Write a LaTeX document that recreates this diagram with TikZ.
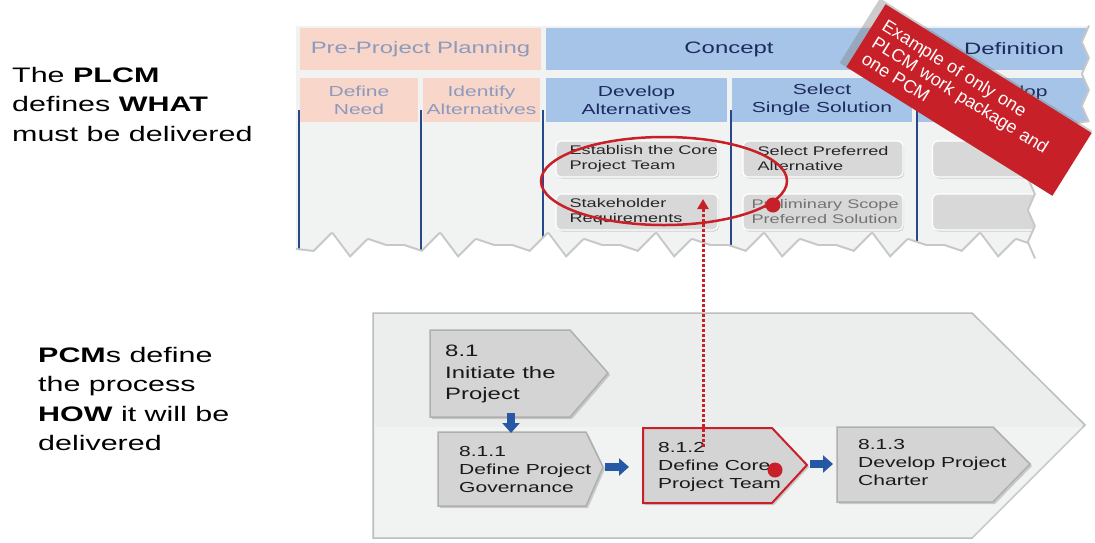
\documentclass[tikz,border=0pt]{standalone}
\usepackage{fontspec}
\setmainfont[FakeStretch=1.45]{Liberation Sans}
\newfontfamily\bannerfont{Liberation Sans}
\usepackage{xcolor}
\usetikzlibrary{arrows.meta,shadows}

\definecolor{prepink}{RGB}{248,214,201}
\definecolor{pretext}{RGB}{140,154,190}
\definecolor{conblue}{RGB}{166,196,231}
\definecolor{context}{RGB}{28,42,94}
\definecolor{tablebg}{RGB}{241,242,242}
\definecolor{collinecol}{RGB}{40,72,140}
\definecolor{tboxfill}{RGB}{216,216,216}
\definecolor{chevfill}{RGB}{212,212,212}
\definecolor{chevedge}{RGB}{175,175,175}
\definecolor{stagefill}{RGB}{236,237,237}
\definecolor{stageedge}{RGB}{188,190,190}
\definecolor{plred}{RGB}{200,32,40}
\definecolor{arrowblue}{RGB}{38,88,165}

\tikzset{
  caption/.style={inner sep=0pt, align=left, font=\fontsize{21}{29.5}\selectfont},
  headcell/.style={inner sep=0pt, minimum height=42pt, font=\fontsize{16.5}{20}\selectfont},
  subcell/.style={inner sep=0pt, minimum height=44pt, align=center, font=\fontsize{14.5}{18}\selectfont},
  prestage/.style={fill=prepink, text=pretext},
  constage/.style={fill=conblue, text=context},
  colline/.style={draw=collinecol, line width=2pt},
  tbox/.style={rounded corners=5pt, fill=tboxfill, draw=white, line width=1.2pt, inner sep=0pt,
    minimum height=36pt, drop shadow={opacity=0.3, shadow xshift=1pt, shadow yshift=-1.5pt}},
  tboxtext/.style={inner sep=0pt, align=left, font=\fontsize{12.5}{15}\selectfont, text=black!85},
  tearshade/.style={draw=black!22, line width=4pt, line join=round},
  bigstage/.style={fill=stagefill, draw=stageedge, line width=1.5pt},
  chev/.style={fill=chevfill, draw=chevedge, line width=1.5pt,
    drop shadow={opacity=0.35, shadow xshift=2pt, shadow yshift=-2pt}},
  chevtext/.style={inner sep=0pt, align=left, font=\fontsize{14.5}{18}\selectfont, text=black!90},
  blockarrow/.style={draw=arrowblue, line width=8pt, -{Triangle[length=10pt,width=17pt]}},
  redmark/.style={draw=plred, line width=2.5pt},
  banner/.style={rotate=-32, fill=plred, text=white, inner sep=0pt, minimum width=243pt,
    minimum height=74pt, text width=224pt, align=left, font=\bannerfont\fontsize{18}{19.5}\selectfont,
    drop shadow={opacity=0.4, shadow xshift=-3pt, shadow yshift=3pt, shadow scale=1.03}}
}

\begin{document}
\begin{tikzpicture}[x=1pt,y=-1pt]
\useasboundingbox (0,0) rectangle (1095,542);

% left captions
\node[caption, anchor=north west] (plcmtext) at (12,67) {The \textbf{PLCM}\\defines \textbf{WHAT}\\must be delivered};
\node[caption, anchor=north west] (pcmtext) at (38,347) {\textbf{PCM}s define\\the process\\\textbf{HOW} it will be\\delivered};

% PLCM table
\fill[tablebg] (296,26) rectangle (1095,270);

\node[headcell, prestage, minimum width=241pt] (preproj) at (420.5,49) {Pre-Project Planning};
\node[headcell, constage, minimum width=366pt] (concept) at (729,49) {Concept};
\node[headcell, constage, minimum width=196pt] (definition) at (1014,49) {Definition};

\node[subcell, prestage, minimum width=118pt] (defneed) at (359,100) {Define\\Need};
\node[subcell, prestage, minimum width=117pt] (identalt) at (481.5,100) {Identify\\Alternatives};
\node[subcell, constage, minimum width=181pt] (devalt) at (636.5,100) {Develop\\Alternatives};
\node[subcell, constage, minimum width=180pt] (selsingle) at (822,100) {Select\\Single Solution};
\node[subcell, constage, minimum width=182pt] (develop) at (1009,100) {Develop\\\phantom{D}};

\foreach \x in {299,421,543,731,917}
  \draw[colline] (\x,110) -- (\x,262);

\node[tbox, minimum width=162pt] (estcore) at (637,159) {};
\node[tbox, minimum width=162pt] (stakereq) at (637,212) {};
\node[tbox, minimum width=160pt] (selpref) at (823,159) {};
\node[tbox, minimum width=160pt] (prelimscope) at (823,212) {};
\node[tbox, minimum width=107pt] (emptytop) at (986,159) {};
\node[tbox, minimum width=107pt] (emptybot) at (986,212) {};

\node[tboxtext, anchor=west] (estcoretext) at ([xshift=14pt]estcore.west) {Establish the Core\\Project Team};
\node[tboxtext, anchor=west] (stakereqtext) at ([xshift=14pt]stakereq.west) {Stakeholder\\Requirements};
\node[tboxtext, anchor=west] (selpreftext) at ([xshift=15pt]selpref.west) {Select Preferred\\Alternative};
\node[tboxtext, anchor=west, text=black!55] (prelimtext) at ([xshift=9pt]prelimscope.west) {Preliminary Scope\\Preferred Solution};

% torn edges of the table
\draw[tearshade] (296,250) \foreach \i in {1,...,42} { -- ({296+18*\i}, {246+12*mod(\i,2)-6*mod(\i,3)}) };
\fill[white] (296,300) -- (296,250) \foreach \i in {1,...,42} { -- ({296+18*\i}, {246+12*mod(\i,2)-6*mod(\i,3)}) } -- (1095,262) -- (1095,300) -- cycle;
\draw[tearshade] (1090,26) \foreach \j in {1,...,6} { -- ({1090-7*mod(\j,2)}, {26+16*\j}) } -- (1036,130) \foreach \j in {1,...,8} { -- ({1036-7*mod(\j,2)}, {130+16*\j}) };
\fill[white] (1095,20) -- (1090,26) \foreach \j in {1,...,6} { -- ({1090-7*mod(\j,2)}, {26+16*\j}) } -- (1036,130) \foreach \j in {1,...,8} { -- ({1036-7*mod(\j,2)}, {130+16*\j}) } -- (1095,262) -- cycle;

\draw[redmark] (664,181) ellipse [x radius=123, y radius=44];

% PCM process
\filldraw[bigstage] (373,313) -- (972,313) -- (1085,425) -- (972,538) -- (373,538) -- cycle;
\fill[white, opacity=0.3] (375,427) -- (1083,427) -- (973,537) -- (375,537) -- cycle;

\filldraw[chev] (430,330) -- (570,330) -- (608,373) -- (570,417) -- (430,417) -- cycle;
\filldraw[chev] (438,432) -- (586,432) -- (603,467) -- (586,506) -- (438,506) -- cycle;
\filldraw[chev, draw=plred, line width=2pt] (643,428) -- (772,428) -- (807,465) -- (772,503) -- (643,503) -- cycle;
\filldraw[chev] (837,427) -- (993,427) -- (1030,464) -- (993,502) -- (837,502) -- cycle;

\node[chevtext, anchor=north west, font=\fontsize{16.5}{21.5}\selectfont] (initproj) at (445,345) {8.1\\Initiate the\\Project};
\node[chevtext, anchor=north west] (defgov) at (459,446.5) {8.1.1\\Define Project\\Governance};
\node[chevtext, anchor=north west] (defcore) at (658,442.5) {8.1.2\\Define Core\\Project Team};
\node[chevtext, anchor=north west] (devcharter) at (858,439.5) {8.1.3\\Develop Project\\Charter};

\coordinate (initbottom) at (511,413);
\coordinate (govtop) at (511,433);
\coordinate (govtip) at (604,467);
\coordinate (coreleft) at (643,467);
\coordinate (coretip) at (810,464);
\coordinate (charterleft) at (837,464);
\draw[blockarrow] (initbottom) -- (govtop);
\draw[blockarrow, shorten <=1pt, shorten >=14pt] (govtip) -- (coreleft);
\draw[blockarrow, shorten >=4pt] (coretip) -- (charterleft);

% link from the PCM step up to the PLCM package
\coordinate (corelink) at (703,447);
\coordinate (stakelink) at (703,199);
\draw[plred, line width=3pt, dash pattern=on 3pt off 2pt, -{Triangle[length=10pt,width=11pt]}] (corelink) -- (stakelink);
\fill[plred] (773,205) circle [radius=7.5];
\fill[plred] (775,470) circle [radius=7.5];

\node[banner] (onlyone) at (969,100) {Example of only one\\PLCM work package and\\one PCM};
\end{tikzpicture}
\end{document}
